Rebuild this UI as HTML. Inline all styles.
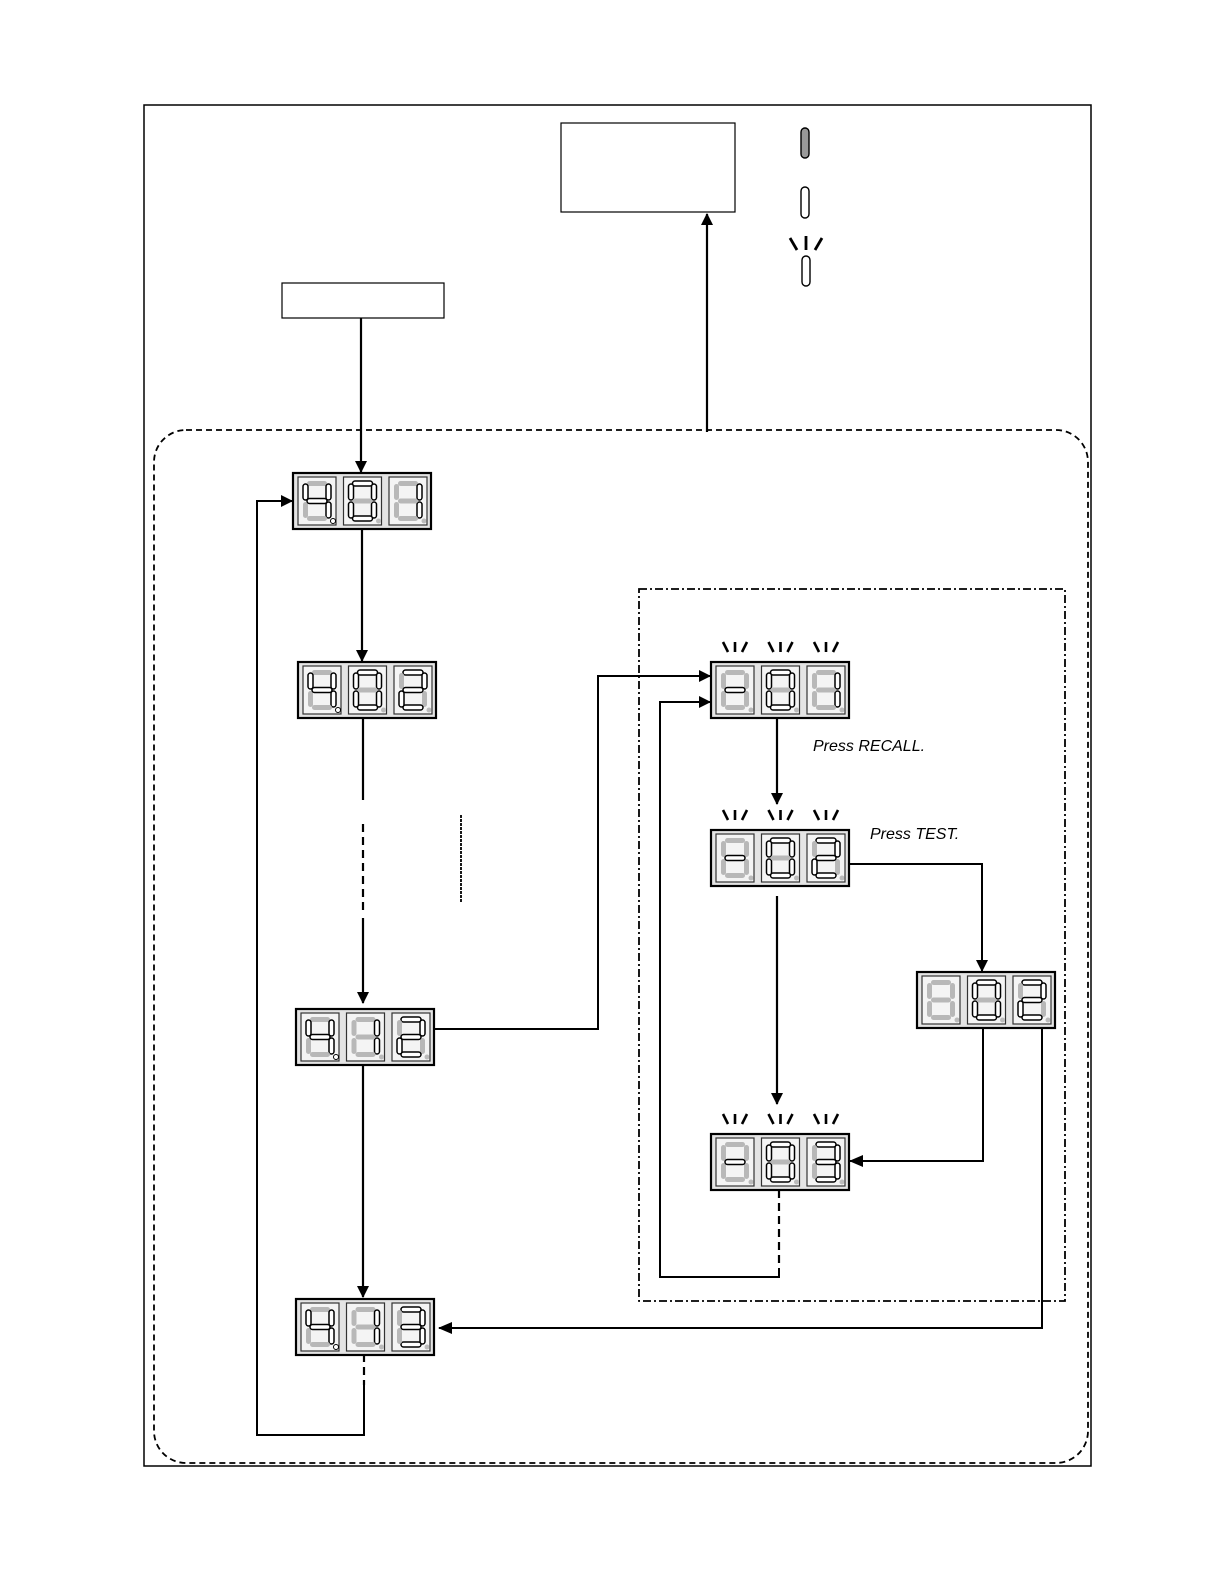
<!DOCTYPE html>
<html><head><meta charset="utf-8"><style>
html,body{margin:0;padding:0;background:#fff}
svg{display:block}
text{font-family:"Liberation Sans",sans-serif}
</style></head><body>
<svg id="s" width="1224" height="1584" viewBox="0 0 1224 1584" xmlns="http://www.w3.org/2000/svg">
<defs>
<marker id="a" markerWidth="12" markerHeight="12" refX="11" refY="6" orient="auto" markerUnits="userSpaceOnUse"><path d="M0,0 L12,6 L0,12 Z" fill="#000"/></marker>
<marker id="b" markerWidth="14" markerHeight="12" refX="13" refY="6" orient="auto" markerUnits="userSpaceOnUse"><path d="M0,0 L14,6 L0,12 Z" fill="#000"/></marker>
</defs>
<rect x="144" y="105" width="947" height="1361" fill="none" stroke="#000" stroke-width="1.5"/>
<rect x="154" y="430" width="934" height="1033" rx="32" fill="none" stroke="#000" stroke-width="1.8" stroke-dasharray="6,4"/>
<rect x="639" y="589" width="426" height="712" fill="none" stroke="#000" stroke-width="1.8" stroke-dasharray="8,3,2,3"/>
<rect x="561" y="123" width="174" height="89" fill="none" stroke="#000" stroke-width="1.2"/>
<rect x="282" y="283" width="162" height="35" fill="none" stroke="#000" stroke-width="1.2"/>
<rect x="801" y="128" width="8" height="30" rx="4" fill="#999" stroke="#000" stroke-width="1.4"/>
<rect x="801" y="187" width="8" height="31" rx="4" fill="#fff" stroke="#000" stroke-width="1.4"/>
<rect x="802" y="256" width="8" height="30" rx="4" fill="#fff" stroke="#000" stroke-width="1.4"/>
<g stroke="#000" stroke-width="2.8"><line x1="790" y1="238" x2="797" y2="250"/><line x1="806" y1="236" x2="806" y2="250"/><line x1="822" y1="238" x2="815" y2="250"/></g>
<g stroke="#000" stroke-width="2.2" fill="none">
<line x1="361" y1="318" x2="361" y2="472" marker-end="url(#a)"/>
<line x1="707" y1="432" x2="707" y2="214" marker-end="url(#a)"/>
<line x1="362" y1="529" x2="362" y2="661" marker-end="url(#a)"/>
<line x1="363" y1="718" x2="363" y2="800"/>
<line x1="363" y1="824" x2="363" y2="910" stroke-dasharray="8,5"/>
<line x1="363" y1="918" x2="363" y2="1003" marker-end="url(#a)"/>
<line x1="461" y1="815" x2="461" y2="902" stroke-width="1.8" stroke-dasharray="3,1"/>
<line x1="363" y1="1065" x2="363" y2="1297" marker-end="url(#a)"/>
<line x1="364" y1="1354" x2="364" y2="1385" stroke-dasharray="8,5"/>
<path d="M364,1385 L364,1435 L257,1435 L257,501 L292,501" marker-end="url(#a)" stroke-width="2"/>
<path d="M434,1029 L598,1029 L598,676 L710,676" marker-end="url(#a)" stroke-width="2"/>
<line x1="777" y1="717" x2="777" y2="804" marker-end="url(#a)"/>
<line x1="777" y1="896" x2="777" y2="1104" marker-end="url(#a)"/>
<path d="M849,864 L982,864 L982,971" marker-end="url(#a)" stroke-width="2"/>
<path d="M983,1028 L983,1161 L850,1161" marker-end="url(#b)" stroke-width="2"/>
<path d="M1042,1028 L1042,1328 L439,1328" marker-end="url(#b)" stroke-width="2"/>
<line x1="779" y1="1190" x2="779" y2="1268" stroke-dasharray="8,5"/>
<path d="M779,1268 L779,1277 L660,1277 L660,702 L710,702" marker-end="url(#a)" stroke-width="2"/>
</g>
<text x="813" y="751" font-size="16" font-style="italic">Press RECALL.</text>
<text x="870" y="839" font-size="16" font-style="italic">Press TEST.</text>
<g id="disp"></g>
</svg>
<script>
var SEG={'4':'fbgc','0':'abcdef','1':'bc','2':'abged','3':'abgcd','-':'g',' ':''};
function seg(x,y,s,on){
 var g={a:[9,4,20,5],g:[9,21.5,20,5],d:[9,39,20,5],f:[5,7,5,16],b:[28,7,5,16],e:[5,25,5,16],c:[28,25,5,16]}[s];
 return '<rect x="'+(x+g[0])+'" y="'+(y+g[1])+'" width="'+g[2]+'" height="'+g[3]+'" rx="2.5" fill="'+(on?'#fff':'#b8b8b8')+'" stroke="'+(on?'#000':'none')+'" stroke-width="1.5"/>';
}
function disp(x,y,chars,dp,blink){
 var h='<rect x="'+x+'" y="'+y+'" width="138" height="56" fill="#e4e4e4" stroke="#000" stroke-width="2.2"/>';
 for(var i=0;i<3;i++){
  var cx=x+5+i*45.5, cy=y+4;
  h+='<rect x="'+cx+'" y="'+cy+'" width="38" height="48" fill="#f4f4f4" stroke="#333" stroke-width="1.2"/>';
  var on=SEG[chars[i]];
  'abcdefg'.split('').forEach(function(s){h+=seg(cx,cy,s,on.indexOf(s)>=0);});
  var d=(dp&&i==0);
  h+='<circle cx="'+(cx+35)+'" cy="'+(cy+44)+'" r="2.5" fill="'+(d?'#fff':'#bbb')+'" stroke="'+(d?'#000':'none')+'"/>';
  if(blink){var bx=cx+19,by=y-20;
   h+='<g stroke="#000" stroke-width="2.6"><line x1="'+(bx-12)+'" y1="'+by+'" x2="'+(bx-7)+'" y2="'+(by+10)+'"/><line x1="'+bx+'" y1="'+by+'" x2="'+bx+'" y2="'+(by+10)+'"/><line x1="'+(bx+12)+'" y1="'+by+'" x2="'+(bx+7)+'" y2="'+(by+10)+'"/></g>';}
 }
 return h;
}
var o='';
o+=disp(293,473,'401',true,false);
o+=disp(298,662,'402',true,false);
o+=disp(296,1009,'412',true,false);
o+=disp(296,1299,'413',true,false);
o+=disp(711,662,'-01',false,true);
o+=disp(711,830,'-02',false,true);
o+=disp(917,972,' 02',false,false);
o+=disp(711,1134,'-03',false,true);
document.getElementById('disp').innerHTML=o;
</script>
</body></html>
